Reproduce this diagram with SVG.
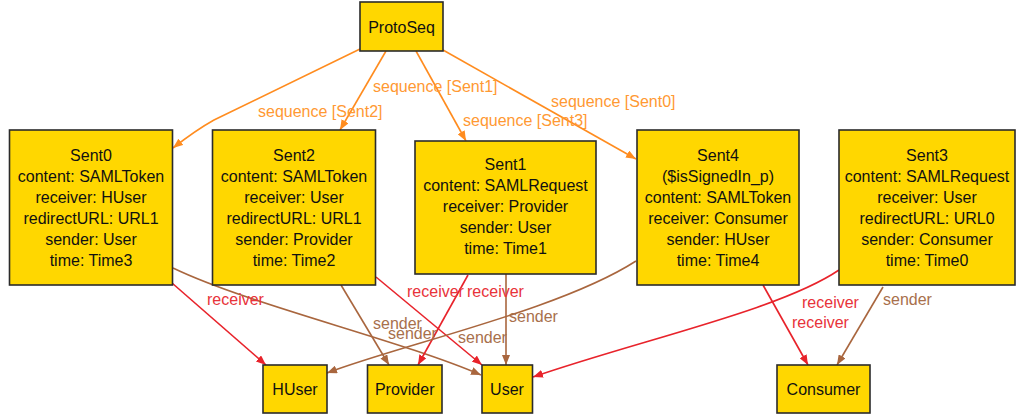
<svg xmlns="http://www.w3.org/2000/svg" width="1016" height="417" viewBox="0 0 1016 417">
  <style>
    .node rect { fill: #FFD700; stroke: #2b2b2b; stroke-width: 1.6; }
    .node text { font-family: "Liberation Sans", Arial, sans-serif; font-size: 16px; fill: #111; text-anchor: middle; }
    .edge { fill: none; stroke-width: 1.6; }
    .seq { stroke: #FF8C1F; marker-end: url(#arrow-seq); }
    .recv { stroke: #E8232B; marker-end: url(#arrow-recv); }
    .send { stroke: #A9663E; marker-end: url(#arrow-send); }
    .lbl { font-family: "Liberation Sans", Arial, sans-serif; font-size: 16px; }
    .lbl-seq { fill: #FF9933; }
    .lbl-recv { fill: #E8333A; }
    .lbl-send { fill: #A8704C; }
  </style>
  <defs>
    <marker id="arrow-seq" viewBox="0 0 10 8" refX="10" refY="4" markerWidth="10" markerHeight="8" markerUnits="userSpaceOnUse" orient="auto">
      <path d="M0,0 L10,4 L0,8 z" fill="#FF8C1F"/>
    </marker>
    <marker id="arrow-recv" viewBox="0 0 10 8" refX="10" refY="4" markerWidth="10" markerHeight="8" markerUnits="userSpaceOnUse" orient="auto">
      <path d="M0,0 L10,4 L0,8 z" fill="#E8232B"/>
    </marker>
    <marker id="arrow-send" viewBox="0 0 10 8" refX="10" refY="4" markerWidth="10" markerHeight="8" markerUnits="userSpaceOnUse" orient="auto">
      <path d="M0,0 L10,4 L0,8 z" fill="#A9663E"/>
    </marker>
  </defs>
  <rect width="1016" height="417" fill="#ffffff"/>

  <!-- connectors -->
  <g id="edges">
    <path class="edge seq" d="M360,49 L214,120 Q196,130 173,148"/>
    <path class="edge seq" d="M386,51 L340,130"/>
    <path class="edge seq" d="M416,51 L466,141"/>
    <path class="edge seq" d="M443,50 L636,159"/>

    <path class="edge recv" d="M172,283 L266,365"/>
    <path class="edge send" d="M173,268 C250,305 400,340 481,375"/>
    <path class="edge send" d="M341,285 L389,365"/>
    <path class="edge recv" d="M376,277 L482,365"/>
    <path class="edge recv" d="M468,275 L418,365"/>
    <path class="edge send" d="M506,274 L506,365"/>
    <path class="edge send" d="M636,261 C560,310 400,345 327,373"/>
    <path class="edge recv" d="M763,285 L808,365"/>
    <path class="edge send" d="M883,287 L837,365"/>
    <path class="edge recv" d="M839,270 C780,310 640,340 533,377"/>

    <text class="lbl lbl-seq" x="258" y="117">sequence [Sent2]</text>
    <text class="lbl lbl-seq" x="373" y="92">sequence [Sent1]</text>
    <text class="lbl lbl-seq" x="463" y="126">sequence [Sent3]</text>
    <text class="lbl lbl-seq" x="551" y="107">sequence [Sent0]</text>

    <text class="lbl lbl-recv" x="207" y="305">receiver</text>
    <text class="lbl lbl-recv" x="407" y="297">receiver</text>
    <text class="lbl lbl-recv" x="467" y="297">receiver</text>
    <text class="lbl lbl-recv" x="802" y="308">receiver</text>
    <text class="lbl lbl-recv" x="792" y="328">receiver</text>

    <text class="lbl lbl-send" x="373" y="329">sender</text>
    <text class="lbl lbl-send" x="388" y="339">sender</text>
    <text class="lbl lbl-send" x="458" y="343">sender</text>
    <text class="lbl lbl-send" x="509" y="322">sender</text>
    <text class="lbl lbl-send" x="883" y="305">sender</text>
  </g>

  <!-- nodes -->
  <g id="ProtoSeq" class="node">
    <rect x="360" y="2" width="83" height="49"/>
    <text x="401.5" y="32.5">ProtoSeq</text>
  </g>
  <g id="Sent0" class="node">
    <rect x="9.5" y="130" width="163" height="155"/>
    <text x="91" y="160.7">Sent0<tspan x="91" dy="21">content: SAMLToken</tspan><tspan x="91" dy="21">receiver: HUser</tspan><tspan x="91" dy="21">redirectURL: URL1</tspan><tspan x="91" dy="21">sender: User</tspan><tspan x="91" dy="21">time: Time3</tspan></text>
  </g>
  <g id="Sent2" class="node">
    <rect x="212.5" y="130" width="163" height="155"/>
    <text x="294" y="160.7">Sent2<tspan x="294" dy="21">content: SAMLToken</tspan><tspan x="294" dy="21">receiver: User</tspan><tspan x="294" dy="21">redirectURL: URL1</tspan><tspan x="294" dy="21">sender: Provider</tspan><tspan x="294" dy="21">time: Time2</tspan></text>
  </g>
  <g id="Sent1" class="node">
    <rect x="415" y="141" width="181" height="133"/>
    <text x="505.5" y="170">Sent1<tspan x="505.5" dy="21">content: SAMLRequest</tspan><tspan x="505.5" dy="21">receiver: Provider</tspan><tspan x="505.5" dy="21">sender: User</tspan><tspan x="505.5" dy="21">time: Time1</tspan></text>
  </g>
  <g id="Sent4" class="node">
    <rect x="637" y="130" width="162" height="155"/>
    <text x="718" y="160.7">Sent4<tspan x="718" dy="21">($isSignedIn_p)</tspan><tspan x="718" dy="21">content: SAMLToken</tspan><tspan x="718" dy="21">receiver: Consumer</tspan><tspan x="718" dy="21">sender: HUser</tspan><tspan x="718" dy="21">time: Time4</tspan></text>
  </g>
  <g id="Sent3" class="node">
    <rect x="839" y="130" width="176" height="155"/>
    <text x="927" y="160.7">Sent3<tspan x="927" dy="21">content: SAMLRequest</tspan><tspan x="927" dy="21">receiver: User</tspan><tspan x="927" dy="21">redirectURL: URL0</tspan><tspan x="927" dy="21">sender: Consumer</tspan><tspan x="927" dy="21">time: Time0</tspan></text>
  </g>
  <g id="HUser" class="node">
    <rect x="263" y="365" width="64" height="48"/>
    <text x="295" y="395">HUser</text>
  </g>
  <g id="Provider" class="node">
    <rect x="367.5" y="365" width="74.5" height="48"/>
    <text x="404.7" y="395">Provider</text>
  </g>
  <g id="User" class="node">
    <rect x="482" y="365" width="50.5" height="48"/>
    <text x="507" y="395">User</text>
  </g>
  <g id="Consumer" class="node">
    <rect x="777" y="365" width="93" height="48"/>
    <text x="823.5" y="395">Consumer</text>
  </g>
</svg>
